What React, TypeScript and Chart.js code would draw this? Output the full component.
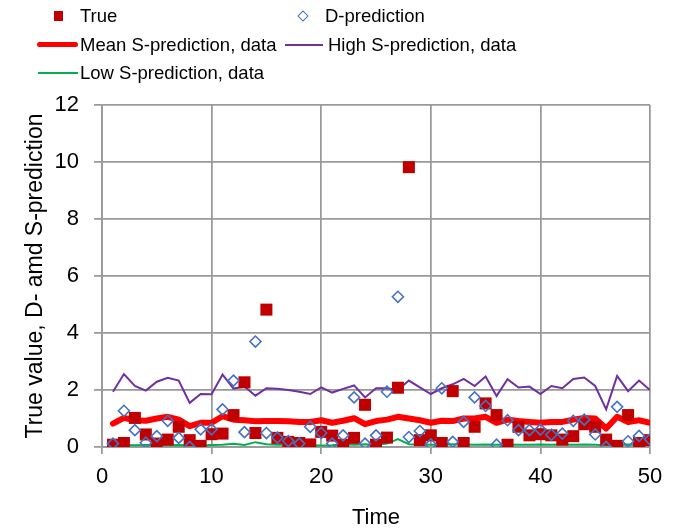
import React, { useEffect, useRef } from "react";
import { Chart, registerables } from "chart.js";

Chart.register(...registerables);

const times: number[] = Array.from({ length: 50 }, (_, i) => i + 1);

const trueValues: number[] = [
  0.08, 0.14, 1.02, 0.44, 0.12, 0.26, 0.71, 0.24, 0.04, 0.45,
  0.47, 1.12, 2.27, 0.49, 4.82, 0.32, 0.18, 0.14, 0.09, 0.53,
  0.4, 0.08, 0.32, 1.48, 0.08, 0.33, 2.08, 9.82, 0.24, 0.41,
  0.14, 1.96, 0.14, 0.71, 1.53, 1.12, 0.08, 0.71, 0.41, 0.45,
  0.41, 0.26, 0.38, 0.8, 0.71, 0.26, 0.04, 1.12, 0.14, 0.24,
];

const dPrediction: number[] = [
  0.12, 1.27, 0.59, 0.15, 0.38, 0.92, 0.32, 0.0, 0.62, 0.62,
  1.32, 2.33, 0.52, 3.7, 0.49, 0.33, 0.21, 0.12, 0.71, 0.49,
  0.12, 0.41, 1.74, 0.12, 0.41, 1.94, 5.27, 0.35, 0.56, 0.09,
  2.06, 0.18, 0.88, 1.74, 1.44, 0.08, 0.94, 0.59, 0.59, 0.61,
  0.43, 0.47, 0.92, 0.96, 0.44, 0.0, 1.41, 0.2, 0.39, 0.27,
];

const meanS: number[] = [
  0.82, 1.02, 0.94, 0.92, 1.0, 1.06, 0.96, 0.73, 0.85, 0.85,
  1.08, 0.96, 0.94, 0.9, 0.91, 0.91, 0.9, 0.88, 0.88, 0.94,
  0.85, 0.92, 1.01, 0.8, 0.91, 0.96, 1.06, 1.0, 0.94, 0.85,
  0.92, 0.91, 1.0, 1.0, 1.06, 0.85, 0.96, 0.91, 0.88, 0.85,
  0.88, 0.88, 0.96, 1.02, 1.0, 0.65, 1.06, 0.88, 0.94, 0.85,
];

const highS: number[] = [
  1.94, 2.56, 2.14, 1.98, 2.29, 2.43, 2.33, 1.55, 1.86, 1.85,
  2.54, 2.05, 2.12, 1.8, 2.06, 2.04, 2.0, 1.94, 1.86, 2.09,
  1.91, 2.04, 2.16, 1.74, 2.06, 2.06, 2.0, 2.33, 2.09, 1.86,
  2.06, 2.2, 2.39, 2.14, 2.47, 1.79, 2.38, 2.09, 2.12, 1.86,
  2.14, 2.06, 2.39, 2.44, 2.14, 1.32, 2.49, 1.96, 2.33, 2.0,
];

const lowS: number[] = [
  0.07, 0.07, 0.06, 0.07, 0.07, 0.06, 0.07, 0.06, 0.05, 0.07,
  0.08, 0.11, 0.07, 0.17, 0.1, 0.08, 0.08, 0.07, 0.06, 0.05,
  0.06, 0.1, 0.08, 0.1, 0.08, 0.12, 0.28, 0.1, 0.09, 0.08,
  0.09, 0.1, 0.09, 0.08, 0.09, 0.08, 0.09, 0.08, 0.08, 0.09,
  0.08, 0.09, 0.08, 0.09, 0.08, 0.06, 0.08, 0.09, 0.08, 0.08,
];

const xTicks: number[] = [0, 10, 20, 30, 40, 50];
const yTicks: number[] = [0, 2, 4, 6, 8, 10, 12];

const FONT = "'Liberation Sans', Arial, sans-serif";
const GRID = "#999999";

const pts = (ys: number[]) => times.map((t, i) => ({ x: t, y: ys[i] }));

const legendText: React.CSSProperties = {
  position: "absolute",
  fontFamily: FONT,
  fontSize: 18.5,
  color: "#000",
  lineHeight: "22px",
  whiteSpace: "nowrap",
};

export default function App() {
  const canvasRef = useRef<HTMLCanvasElement | null>(null);

  useEffect(() => {
    const canvas = canvasRef.current;
    if (!canvas) return;
    const chart = new Chart(canvas, {
      type: "scatter",
      data: {
        datasets: [
          {
            label: "D-prediction",
            data: pts(dPrediction),
            showLine: false,
            pointStyle: "rectRot",
            pointRadius: 5.5,
            pointBorderWidth: 1.6,
            pointBorderColor: "#4472c4",
            pointBackgroundColor: "rgba(255,255,255,0)",
          },
          {
            label: "True",
            data: pts(trueValues),
            showLine: false,
            pointStyle: "rect",
            pointRadius: 8.5,
            pointBorderWidth: 0,
            pointBackgroundColor: "#c00000",
            pointBorderColor: "#c00000",
          },
          {
            label: "Low S-prediction, data",
            data: pts(lowS),
            showLine: true,
            borderColor: "#00b050",
            borderWidth: 2,
            pointRadius: 0,
            tension: 0,
          },
          {
            label: "High S-prediction, data",
            data: pts(highS),
            showLine: true,
            borderColor: "#7030a0",
            borderWidth: 2,
            pointRadius: 0,
            tension: 0,
          },
          {
            label: "Mean S-prediction, data",
            data: pts(meanS),
            showLine: true,
            borderColor: "#ff0000",
            borderWidth: 6,
            borderCapStyle: "round",
            borderJoinStyle: "round",
            pointRadius: 0,
            tension: 0,
          },
        ],
      },
      options: {
        responsive: false,
        animation: false,
        devicePixelRatio: 1,
        layout: { padding: { left: 0, top: 105, right: 25, bottom: 0 } },
        plugins: {
          legend: { display: false },
          tooltip: { enabled: false },
        },
        scales: {
          x: {
            type: "linear",
            min: 0,
            max: 50,
            afterFit: (s: any) => {
              s.height = 84;
            },
            afterBuildTicks: (s: any) => {
              s.ticks = xTicks.map((v) => ({ value: v }));
            },
            grid: { color: GRID, lineWidth: 1.75, tickLength: 7 },
            border: { color: GRID, width: 1.75 },
            ticks: {
              color: "#000",
              padding: 10,
              maxRotation: 0,
              font: { family: FONT, size: 22 },
            },
            title: {
              display: true,
              text: "Time",
              color: "#000",
              padding: { top: 0, bottom: 0 },
              font: { family: FONT, size: 22 },
            },
          },
          y: {
            min: 0,
            max: 12,
            afterFit: (s: any) => {
              s.width = 102;
            },
            afterBuildTicks: (s: any) => {
              s.ticks = yTicks.map((v) => ({ value: v }));
            },
            grid: { color: GRID, lineWidth: 1.75, tickLength: 8 },
            border: { color: GRID, width: 1.75 },
            ticks: {
              color: "#000",
              padding: 15,
              font: { family: FONT, size: 22 },
            },
            title: {
              display: true,
              text: "True value, D- amd S-prediction",
              color: "#000",
              padding: { top: 22, bottom: 0 },
              font: { family: FONT, size: 23 },
            },
          },
        },
      },
    });
    return () => chart.destroy();
  }, []);

  return (
    <div
      style={{
        position: "fixed",
        left: 0,
        top: 0,
        width: 675,
        height: 531,
        background: "#fff",
      }}
    >
      <canvas
        ref={canvasRef}
        width={675}
        height={531}
        style={{ position: "absolute", left: 0, top: 0, width: 675, height: 531 }}
      />
      {/* legend */}
      <div
        style={{
          position: "absolute",
          left: 54,
          top: 11,
          width: 9,
          height: 10,
          background: "#c00000",
        }}
      />
      <div style={{ ...legendText, left: 80, top: 5 }}>True</div>
      <div
        style={{
          position: "absolute",
          left: 299,
          top: 12,
          width: 6,
          height: 6,
          border: "1.5px solid #4472c4",
          transform: "rotate(45deg)",
        }}
      />
      <div style={{ ...legendText, left: 325, top: 5 }}>D-prediction</div>
      <div
        style={{
          position: "absolute",
          left: 37,
          top: 42,
          width: 41,
          height: 5,
          borderRadius: 3,
          background: "#ff0000",
        }}
      />
      <div style={{ ...legendText, left: 80, top: 34 }}>Mean S-prediction, data</div>
      <div
        style={{
          position: "absolute",
          left: 285,
          top: 44,
          width: 38,
          height: 2,
          background: "#7030a0",
        }}
      />
      <div style={{ ...legendText, left: 328, top: 34 }}>High S-prediction, data</div>
      <div
        style={{
          position: "absolute",
          left: 38,
          top: 72,
          width: 40,
          height: 2,
          background: "#00b050",
        }}
      />
      <div style={{ ...legendText, left: 80, top: 62 }}>Low S-prediction, data</div>
    </div>
  );
}
